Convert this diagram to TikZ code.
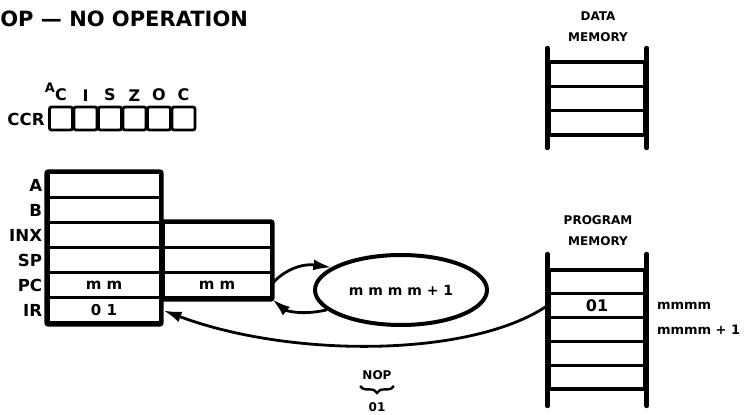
\documentclass[tikz,border=0pt]{standalone}
\usepackage{fontspec}
\setmainfont{DejaVu Sans}
\usetikzlibrary{arrows.meta,shapes.geometric,decorations.pathreplacing}

\tikzset{
  regcell/.style={draw, line width=1.5pt, minimum height=12.5pt, inner sep=0pt,
    font=\fontsize{7.5}{8}\selectfont\bfseries},
  reglabel/.style={anchor=east, inner sep=0pt, font=\fontsize{8.3}{9}\selectfont\bfseries},
  flagbox/.style={draw, line width=1.4pt, rounded corners=1pt, minimum width=11.5pt,
    minimum height=11.5pt, inner sep=0pt},
  flaglabel/.style={inner sep=0pt, font=\fontsize{8}{9}\selectfont\bfseries},
  memcell/.style={draw, line width=1.6pt, minimum width=48pt, inner sep=0pt,
    font=\fontsize{8}{9}\selectfont\bfseries},
  memrail/.style={line width=2.2pt, line cap=round},
  addr/.style={anchor=west, inner sep=0pt, font=\fontsize{6.5}{7}\selectfont\bfseries},
  small/.style={inner sep=0pt, align=center, font=\fontsize{6}{10.5}\selectfont\bfseries},
  flow/.style={line width=1.4pt, -{Latex[length=9pt,width=5.5pt]}},
}

\begin{document}
\begin{tikzpicture}[x=0.5pt, y=-0.5pt]
  \useasboundingbox (0,0) rectangle (748,415);

  % Title
  \node[anchor=west, inner sep=0pt, font=\fontsize{10.5}{12}\selectfont\bfseries]
    (title) at (0,19) {OP — NO OPERATION};

  % Condition code register
  \node[reglabel] (ccrlabel) at (45,119) {CCR};
  \foreach \f [count=\i] in {C,I,S,Z,O,C} {
    \node[flagbox] (ccr\i) at (36.5+24.5*\i,118.5) {};
    \node[flaglabel, above=2pt] (flag\i) at (ccr\i.north) {\f};
  }
  \node[flaglabel, font=\fontsize{6.5}{7}\selectfont\bfseries] (flagA) at (50,88) {A};

  % Registers, high byte
  \foreach \r/\v [count=\i] in {A/,B/,INX/,SP/,PC/m m,IR/0 1} {
    \node[regcell, minimum width=56pt] (\r) at (104,160.5+25*\i) {\v};
    \node[reglabel] (\r label) at ([xshift=-2pt]\r.west) {\r};
  }
  % Registers, low byte
  \foreach \r/\v in {INX/,SP/,PC/m m}
    \node[regcell, minimum width=54pt, anchor=west] (\r lo) at (\r.east) {\v};
  \draw[line width=2.2pt, rounded corners=1pt] (A.north west) rectangle (IR.south east);
  \draw[line width=2.2pt, rounded corners=1pt] (INXlo.north west) rectangle (PClo.south east);

  % Incrementer
  \node[draw, ellipse, line width=2pt, minimum width=86pt, minimum height=35pt,
    font=\fontsize{7}{8}\selectfont\bfseries] (incr) at (401,290) {m m m m + 1};

  % Data memory
  \node[small] (dmtitle) at (598,27) {DATA\\MEMORY};
  \foreach \i in {1,...,3}
    \node[memcell, minimum height=12.17pt] (dm\i) at (597,49.8+24.33*\i) {};
  \draw[memrail] (dm1.west |- 0,48) -- (dm3.west |- 0,148);
  \draw[memrail] (dm1.east |- 0,48) -- (dm3.east |- 0,148);

  % Program memory
  \node[small] (pmtitle) at (598,231) {PROGRAM\\MEMORY};
  \foreach \v [count=\i] in {,01,,,}
    \node[memcell, minimum height=11.9pt] (pm\i) at (597,258.1+23.8*\i) {\v};
  \draw[memrail] (pm1.west |- 0,254) -- (pm5.west |- 0,406);
  \draw[memrail] (pm1.east |- 0,254) -- (pm5.east |- 0,406);
  \node[addr] (addr1) at ([xshift=5pt]pm2.east) {mmmm};
  \node[addr] (addr2) at ([xshift=5pt]pm3.east) {mmmm + 1};

  % Data flow
  \draw[flow] ([yshift=1pt]PClo.east) .. controls (282,272) and (300,263) .. (incr.162);
  \draw[flow] (incr.195) .. controls (300,316) and (285,310) .. (PClo.south east);
  \draw[flow] (pm2.west) .. controls (470,358) and (290,358) .. ([xshift=1pt]IR.east);

  % Opcode
  \node[small] (nop) at (377,375) {NOP};
  \draw[decorate, decoration={brace, mirror, amplitude=3.5pt}, line width=1.2pt]
    ([yshift=-3pt,xshift=-1pt]nop.south west) -- ([yshift=-3pt,xshift=1pt]nop.south east);
  \node[small] (nopcode) at (377,407) {01};
\end{tikzpicture}
\end{document}
